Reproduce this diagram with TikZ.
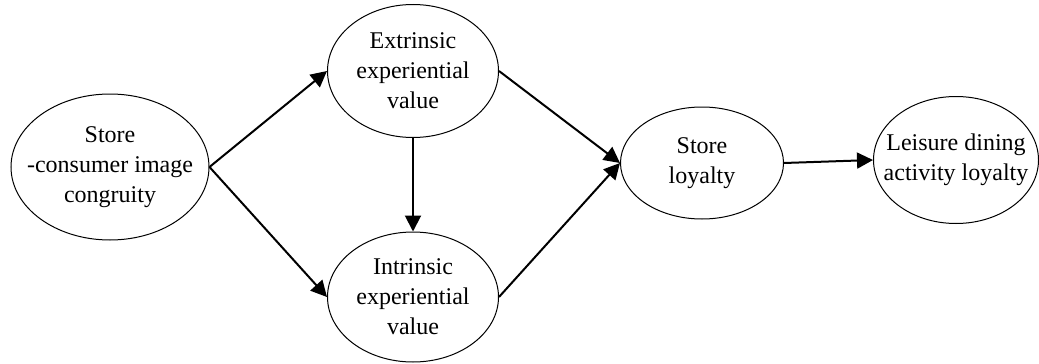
\documentclass[tikz,border=0pt]{standalone}
\usepackage{fontspec}
\setmainfont{Liberation Serif}
\usepackage{tikz}
\usetikzlibrary{arrows.meta,positioning,shapes.geometric}

\begin{document}
\begin{tikzpicture}[x=0.5pt, y=-0.5pt, >={Triangle[length=8pt,width=8pt]}]
\tikzstyle{var}=[draw, ellipse, line width=0.5pt, inner xsep=-25pt, inner ysep=-15pt,
  align=center, font=\fontsize{12pt}{15pt}\selectfont]
\tikzstyle{path}=[->, line width=1pt]
\useasboundingbox (0,0) rectangle (1039,364);

\node[var, minimum width=99pt, minimum height=73pt] (cong) at (110,167) {Store\\-consumer image\\congruity};
\node[var, minimum width=85.5pt, minimum height=66.5pt] (ext) at (413,71) {Extrinsic\\experiential\\value};
\node[var, minimum width=85.5pt, minimum height=65pt] (int) at (413,297) {Intrinsic\\experiential\\value};
\node[var, minimum width=81.5pt, minimum height=56pt] (loy) at (702,163) {Store\\loyalty};
\node[var, minimum width=82.5pt, minimum height=63.5pt] (leis) at (956,160) {Leisure dining\\activity loyalty};

\draw[path] (cong.east) -- (ext.west);
\draw[path] (cong.east) -- (int.west);
\draw[path] (ext.south) -- (int.north);
\draw[path] (ext.east) -- (loy.west);
\draw[path] (int.east) -- (loy.west);
\draw[path] (loy.east) -- (leis.west);
\end{tikzpicture}
\end{document}
